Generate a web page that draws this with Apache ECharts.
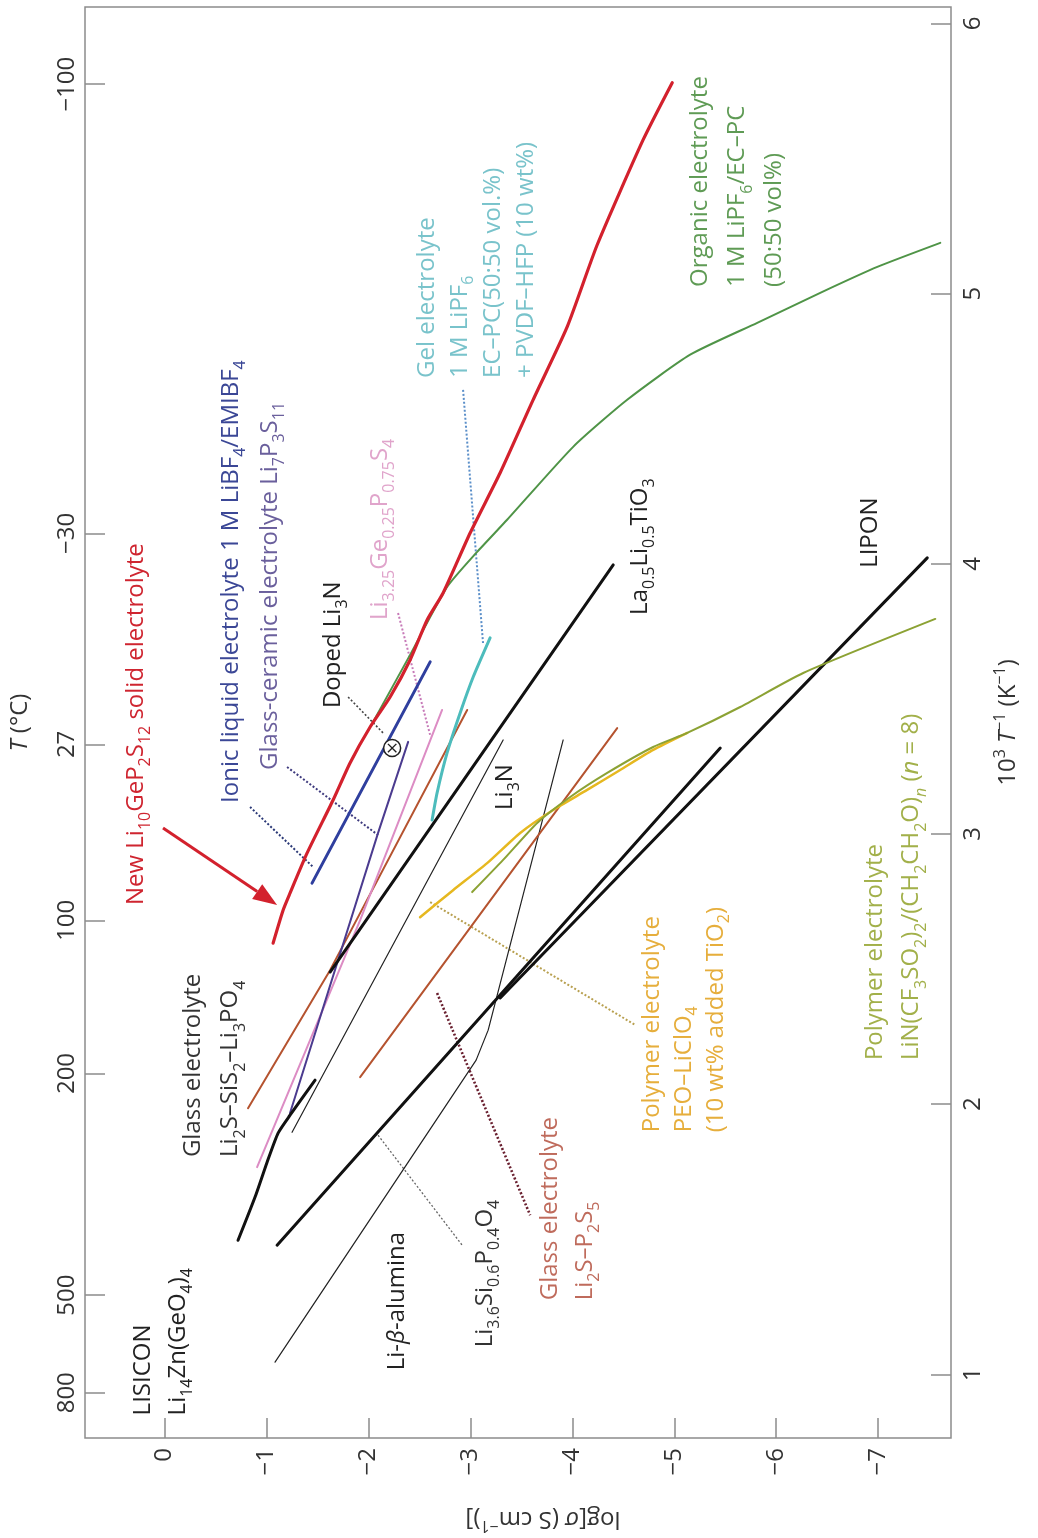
<!DOCTYPE html>
<html>
<head>
<meta charset="utf-8">
<script src="https://cdn.jsdelivr.net/npm/echarts@6/dist/echarts.min.js"></script>
<style>
  html, body { margin: 0; padding: 0; background: #ffffff; }
  #chart { width: 1038px; height: 1538px; }
</style>
</head>
<body>
<div id="chart"></div>
<script>
// Ionic conductivity of lithium electrolytes: log(sigma) against 1000/T,
// drawn with the temperature axis running up the page.

// ---- axis ticks ----
const logSigmaTicks = [0, -1, -2, -3, -4, -5, -6, -7];
const invTTicks = [1, 2, 3, 4, 5, 6];
const tempTicksC = [800, 500, 200, 100, 27, -30, -100];

// ---- conductivity curves: [log sigma (S/cm), 1000/T (1/K)] ----
const li10GeP2S12 = [[-1.064, 2.596], [-1.162, 2.718], [-1.230, 2.781], [-1.397, 2.929], [-1.653, 3.126], [-1.819, 3.263], [-2.016, 3.396], [-2.212, 3.507], [-2.408, 3.644], [-2.575, 3.792], [-2.732, 3.892], [-2.997, 4.114], [-3.292, 4.337], [-3.615, 4.607], [-3.949, 4.877], [-4.244, 5.181], [-4.695, 5.570], [-4.980, 5.781]];
const organicLiPF6 = [[-2.045, 3.415], [-2.408, 3.663], [-2.771, 3.914], [-3.066, 4.044], [-3.360, 4.163], [-4.008, 4.433], [-4.538, 4.607], [-5.156, 4.774], [-5.814, 4.892], [-6.432, 5.003], [-6.992, 5.099], [-7.610, 5.188]];
const ionicLiquid = [[-1.446, 2.818], [-2.605, 3.637]];
const glassCeramicLi7P3S11 = [[-1.230, 1.967], [-2.094, 3.004], [-2.389, 3.341]];
const li325Ge025P075S4 = [[-0.907, 1.767], [-1.918, 2.681], [-2.722, 3.459]];
const glassLi2SSiS2 = [[-0.818, 1.985], [-1.623, 2.496], [-2.968, 3.459]];
const gelPVDF = [[-2.624, 3.052], [-2.673, 3.152], [-2.771, 3.300], [-2.899, 3.448], [-3.027, 3.581], [-3.193, 3.726]];
const laLiTiO3 = [[-1.623, 2.489], [-4.401, 3.996]];
const li3N = [[-1.250, 1.896], [-3.321, 3.348]];
const liBetaAlumina = [[-1.083, 1.045], [-3.056, 2.163], [-3.174, 2.274], [-3.910, 3.348]];
const glassLi2SP2S5 = [[-1.918, 2.100], [-4.440, 3.392]];
const peoLiClO4 = [[-2.506, 2.692], [-2.830, 2.792], [-3.164, 2.892], [-3.488, 3.004], [-3.812, 3.089], [-4.145, 3.163], [-4.469, 3.237], [-4.793, 3.311], [-5.127, 3.374]];
const polymerLiTFSI = [[-3.017, 2.785], [-3.321, 2.904], [-3.655, 3.041], [-3.979, 3.137], [-4.342, 3.226], [-4.793, 3.322], [-5.127, 3.374], [-5.647, 3.470], [-6.265, 3.596], [-7.561, 3.796]];
const lipon = [[-3.292, 2.393], [-7.482, 4.022]];
const li36Si06P04O4 = [[-1.103, 1.478], [-5.451, 3.318]];
const lisicon = [[-0.720, 1.496], [-0.887, 1.656], [-1.005, 1.785], [-1.113, 1.893], [-1.230, 1.959], [-1.476, 2.089]];

// ---- leader lines from labels to curves ----
const leaderGel = [[-2.928, 4.644], [-3.125, 3.700]];
const leaderIonic = [[-0.838, 3.100], [-1.456, 2.878]];
const leaderGlassCeramic = [[-1.201, 3.248], [-2.094, 2.996]];
const leaderDopedLi3N = [[-1.800, 3.507], [-2.143, 3.374]];
const leaderLi325 = [[-2.290, 3.818], [-2.605, 3.366]];
const leaderPEO = [[-2.605, 2.748], [-4.617, 2.293]];
const leaderP2S5 = [[-2.673, 2.411], [-3.586, 1.589]];
const leaderLi36Si = [[-2.094, 1.885], [-2.919, 1.478]];

// ---- highlight arrow and doped Li3N point ----
const arrowNew = [[0.016, 3.022, -1.103, 2.737]];
const dopedLi3NPoint = [[-2.232, 3.318]];

// ---- labels: text with _{sub} ^{sup} ~{italic} %{italic sub}, anchored at start of first line ----
const labelIds = ['new', 'ionic', 'ceramic', 'doped', 'li325', 'gel', 'organic', 'la', 'lipon', 'li3n', 'peo', 'litfsi', 'p2s5', 'li36si', 'beta', 'lisicon', 'sis2'];
const labelTexts = [
  'New Li_{10}GeP_{2}S_{12} solid electrolyte',
  'Ionic liquid electrolyte 1 M LiBF_{4}/EMIBF_{4}',
  'Glass-ceramic electrolyte Li_{7}P_{3}S_{11}',
  'Doped Li_{3}N',
  'Li_{3.25}Ge_{0.25}P_{0.75}S_{4}',
  'Gel electrolyte\n1 M LiPF_{6}\nEC\u2013PC(50:50 vol.%)\n+ PVDF\u2013HFP (10 wt%)',
  'Organic electrolyte\n1 M LiPF_{6}/EC\u2013PC\n(50:50 vol%)',
  'La_{0.5}Li_{0.5}TiO_{3}',
  'LIPON',
  'Li_{3}N',
  'Polymer electrolyte\nPEO\u2013LiClO_{4}\n(10 wt% added TiO_{2})',
  'Polymer electrolyte\nLiN(CF_{3}SO_{2})_{2}/(CH_{2}CH_{2}O)%{n} (~{n} = 8)',
  'Glass electrolyte\nLi_{2}S\u2013P_{2}S_{5}',
  'Li_{3.6}Si_{0.6}P_{0.4}O_{4}',
  'Li-~{\u03b2}-alumina',
  'LISICON\nLi_{14}Zn(GeO_{4})_{4}',
  'Glass electrolyte\nLi_{2}S\u2013SiS_{2}\u2013Li_{3}PO_{4}'
];
const labelAnchors = [
  [0.281, 2.737], [-0.651, 3.115], [-1.034, 3.237], [-1.653, 3.466], [-2.114, 3.792],
  [-2.575, 4.688], [-5.254, 5.025], [-4.666, 3.811], [-6.923, 3.985], [-3.341, 3.089],
  [-4.783, 1.896], [-6.972, 2.163], [-3.782, 1.274], [-3.144, 1.100], [-2.281, 1.015],
  [0.212, 0.848], [-0.278, 1.804]
];

// ---- look ----
const FONT = '"Open Sans", "Noto Sans", "DejaVu Sans", sans-serif';
const FS = 24;
const AXIS_GREY = '#8c8c8c';
const RED = '#d3212d';

const labelLook = {
  new: { color: '#cf2530', lh: 35 },
  ionic: { color: '#3b4796', lh: 35 },
  ceramic: { color: '#6a5f9c', lh: 35 },
  doped: { color: '#222222', lh: 35 },
  li325: { color: '#e0a4cb', lh: 35 },
  gel: { color: '#79c3cb', lh: 33 },
  organic: { color: '#5f9b55', lh: 37 },
  la: { color: '#222222', lh: 35 },
  lipon: { color: '#222222', lh: 35 },
  li3n: { color: '#222222', lh: 35 },
  peo: { color: '#e6ae3c', lh: 32 },
  litfsi: { color: '#a2b04a', lh: 36 },
  p2s5: { color: '#bf6b5c', lh: 35 },
  li36si: { color: '#333333', lh: 35 },
  beta: { color: '#222222', lh: 35 },
  lisicon: { color: '#222222', lh: 35 },
  sis2: { color: '#333333', lh: 37 }
};

// turn the small markup into ECharts rich-text tokens
function markup(src) {
  const kinds = { '_': 's', '^': 'p', '~': 'i', '%': 'si' };
  return src.split('\n').map(function (line) {
    return line.split(/([_^~%]\{[^}]*\})/).filter(function (p) { return p.length; }).map(function (p) {
      const m = p.match(/^([_^~%])\{([^}]*)\}$/);
      return m ? '{' + kinds[m[1]] + '|' + m[2] + '}' : '{n|' + p + '}';
    }).join('');
  }).join('\n');
}

function richSet(color, fs, lh) {
  const base = { fontFamily: FONT, fontSize: fs, lineHeight: lh, color: color, fill: color, verticalAlign: 'middle' };
  const small = Math.round(fs * 0.66);
  const h = lh - 14;
  return {
    n: base,
    i: Object.assign({}, base, { fontStyle: 'italic' }),
    s: Object.assign({}, base, { fontSize: small, lineHeight: h, verticalAlign: 'bottom' }),
    si: Object.assign({}, base, { fontSize: small, lineHeight: h, verticalAlign: 'bottom', fontStyle: 'italic' }),
    p: Object.assign({}, base, { fontSize: small, lineHeight: h, verticalAlign: 'top' })
  };
}

function curve(name, data, color, width, smooth, z) {
  return {
    name: name, type: 'line', data: data, showSymbol: false, symbol: 'none',
    smooth: smooth || false, silent: true, z: z || 2,
    lineStyle: { color: color, width: width, cap: 'round', join: 'round' }
  };
}
function leader(name, data, color, width) {
  return {
    name: name, type: 'line', data: data, showSymbol: false, symbol: 'none', silent: true, z: 1,
    lineStyle: { color: color, width: width, type: [2, 2] }
  };
}

const tempPositions = tempTicksC.map(function (t) { return 1000 / (t + 273.15); });

const tickLabelStyle = { fontFamily: FONT, fontSize: FS, color: '#333333' };
const hiddenLine = { show: false, onZero: false };

const option = {
  animation: false,
  backgroundColor: '#ffffff',
  grid: {
    left: 85, right: 87, top: 7, bottom: 100,
    show: true, borderColor: AXIS_GREY, borderWidth: 1.5,
    containLabel: false, outerBoundsMode: 'none'
  },
  xAxis: {
    type: 'value', min: -7.715, max: 0.7815, inverse: true, position: 'bottom',
    axisLine: hiddenLine,
    splitLine: { show: false },
    axisTick: { inside: true, length: 20, customValues: logSigmaTicks, lineStyle: { color: AXIS_GREY, width: 1.5 } },
    axisLabel: Object.assign({
      customValues: logSigmaTicks, rotate: 90, margin: 10,
      formatter: function (v) { return v === 0 ? '0' : '\u2212' + Math.abs(v); }
    }, tickLabelStyle),
    name: markup('log[~{\u03c3} (S cm^{\u22121})]'),
    nameLocation: 'middle', nameRotate: 180, nameGap: 66,
    nameTextStyle: { rich: richSet('#333333', FS, 30), padding: [0, 50, 0, 0] }
  },
  yAxis: [
    {
      type: 'value', min: 0.7643, max: 6.061, position: 'right',
      axisLine: hiddenLine,
      splitLine: { show: false },
      axisTick: { inside: true, length: 20, customValues: invTTicks, lineStyle: { color: AXIS_GREY, width: 1.5 } },
      axisLabel: Object.assign({ customValues: invTTicks, rotate: 90, margin: 10 }, tickLabelStyle),
      name: markup('10^{3} ~{T}^{\u22121} (K^{\u22121})'),
      nameLocation: 'middle', nameRotate: 90, nameGap: 40,
      nameTextStyle: { rich: richSet('#333333', FS, 30) }
    },
    {
      type: 'value', min: 0.7643, max: 6.061, position: 'left',
      axisLine: hiddenLine,
      splitLine: { show: false },
      axisTick: { inside: true, length: 20, customValues: tempPositions, lineStyle: { color: AXIS_GREY, width: 1.5 } },
      axisLabel: Object.assign({
        customValues: tempPositions, rotate: 90, margin: 6,
        formatter: function (v) {
          let best = 0;
          tempPositions.forEach(function (p, i) { if (Math.abs(p - v) < Math.abs(tempPositions[best] - v)) best = i; });
          const t = tempTicksC[best];
          return t < 0 ? '\u2212' + Math.abs(t) : String(t);
        }
      }, tickLabelStyle),
      name: markup('~{T} (\u00b0C)'),
      nameLocation: 'middle', nameRotate: 90, nameGap: 50,
      nameTextStyle: { rich: richSet('#333333', FS, 30) }
    }
  ],
  series: [
    leader('gel leader', leaderGel, '#5b8fc9', 2),
    leader('ionic leader', leaderIonic, '#2c3a78', 2),
    leader('glass-ceramic leader', leaderGlassCeramic, '#3e3a7e', 2),
    leader('doped Li3N leader', leaderDopedLi3N, '#444444', 1.6),
    leader('Li3.25 leader', leaderLi325, '#c77ab8', 2),
    leader('PEO leader', leaderPEO, '#b8a050', 2),
    leader('Li2S-P2S5 leader', leaderP2S5, '#6a2030', 2.6),
    leader('Li3.6Si leader', leaderLi36Si, '#666666', 1.3),

    curve('Li3N', li3N, '#222222', 1.2),
    curve('Li-beta-alumina', liBetaAlumina, '#222222', 1.2),
    curve('Li2S-SiS2-Li3PO4', glassLi2SSiS2, '#b5532f', 2),
    curve('Li2S-P2S5', glassLi2SP2S5, '#b5532f', 2),
    curve('Li3.25Ge0.25P0.75S4', li325Ge025P075S4, '#dc8cc4', 2),
    curve('Li7P3S11', glassCeramicLi7P3S11, '#4b3b8f', 2),
    curve('LISICON', lisicon, '#111111', 3, 0.2),
    curve('Li3.6Si0.6P0.4O4', li36Si06P04O4, '#111111', 3),
    curve('LIPON', lipon, '#111111', 3),
    curve('La0.5Li0.5TiO3', laLiTiO3, '#111111', 3),
    curve('PEO-LiClO4', peoLiClO4, '#e6b820', 2.5, 0.2),
    curve('LiN(CF3SO2)2/(CH2CH2O)n', polymerLiTFSI, '#8ca234', 2, 0.2),
    curve('gel', gelPVDF, '#4dbcbc', 3, 0.2),
    curve('ionic liquid', ionicLiquid, '#2f3f9e', 3),
    curve('organic', organicLiPF6, '#4f9447', 2, 0.2, 3),
    curve('Li10GeP2S12', li10GeP2S12, RED, 3.2, 0.2, 4),

    {
      name: 'arrow', type: 'custom', silent: true, z: 5,
      data: arrowNew, encode: { x: [0, 2], y: [1, 3] },
      renderItem: function (params, api) {
        const a = api.coord([api.value(0), api.value(1)]);
        const b = api.coord([api.value(2), api.value(3)]);
        const ang = Math.atan2(b[1] - a[1], b[0] - a[0]);
        const L = 24, W = 9;
        const base = [b[0] - L * Math.cos(ang), b[1] - L * Math.sin(ang)];
        const l = [base[0] + W * Math.sin(ang), base[1] - W * Math.cos(ang)];
        const r = [base[0] - W * Math.sin(ang), base[1] + W * Math.cos(ang)];
        return {
          type: 'group', children: [
            { type: 'line', shape: { x1: a[0], y1: a[1], x2: base[0], y2: base[1] }, style: { stroke: RED, lineWidth: 3 } },
            { type: 'polygon', shape: { points: [b, l, r] }, style: { fill: RED } }
          ]
        };
      }
    },
    {
      name: 'doped Li3N', type: 'custom', silent: true, z: 5,
      data: dopedLi3NPoint,
      renderItem: function (params, api) {
        const c = api.coord([api.value(0), api.value(1)]);
        const r = 8.5, d = 4.2;
        return {
          type: 'group', children: [
            { type: 'circle', shape: { cx: c[0], cy: c[1], r: r }, style: { fill: '#ffffff', stroke: '#222222', lineWidth: 1.5 } },
            { type: 'line', shape: { x1: c[0] - d, y1: c[1] - d, x2: c[0] + d, y2: c[1] + d }, style: { stroke: '#222222', lineWidth: 1.4 } },
            { type: 'line', shape: { x1: c[0] - d, y1: c[1] + d, x2: c[0] + d, y2: c[1] - d }, style: { stroke: '#222222', lineWidth: 1.4 } }
          ]
        };
      }
    },
    {
      name: 'labels', type: 'custom', silent: true, z: 6, clip: false,
      data: labelAnchors,
      renderItem: function (params, api) {
        const look = labelLook[labelIds[params.dataIndex]];
        const p = api.coord([api.value(0), api.value(1)]);
        return {
          type: 'text',
          x: p[0] - look.lh / 2, y: p[1], rotation: Math.PI / 2,
          style: {
            text: markup(labelTexts[params.dataIndex]),
            rich: richSet(look.color, FS, look.lh),
            fill: look.color, fontFamily: FONT, fontSize: FS,
            align: 'left', verticalAlign: 'top'
          }
        };
      }
    }
  ]
};

const chart = echarts.init(document.getElementById('chart'), null, { renderer: 'canvas' });
chart.setOption(option);
</script>
</body>
</html>
